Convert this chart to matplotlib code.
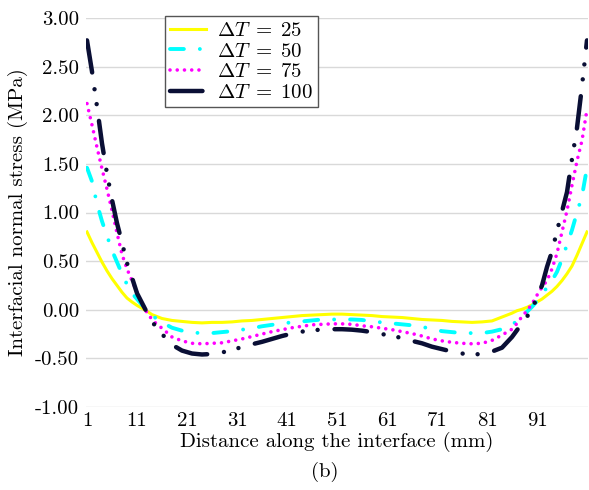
import matplotlib
matplotlib.use("Agg")
import matplotlib.pyplot as plt

plt.rcParams["font.family"] = ["cmr10", "DejaVu Serif"]
plt.rcParams["mathtext.fontset"] = "cm"
plt.rcParams["axes.unicode_minus"] = False
plt.rcParams["axes.formatter.use_mathtext"] = True
plt.rcParams["lines.scale_dashes"] = False

# sampling positions along the interface (mm): dense near both free edges
x = (list(range(1, 17)) + list(range(18, 85, 2)) + list(range(86, 102)))

dt25 = [0.80, 0.69, 0.59, 0.49, 0.40, 0.32, 0.25, 0.18, 0.12, 0.08, 0.045, 0.015, -0.015, -0.05, -0.07, -0.09,
        -0.11, -0.12, -0.13, -0.135, -0.13, -0.13, -0.125, -0.115, -0.11, -0.10, -0.09, -0.08, -0.07, -0.06,
        -0.055, -0.05, -0.045, -0.045, -0.05, -0.055, -0.06, -0.07, -0.075, -0.08, -0.09, -0.10, -0.105, -0.11,
        -0.12, -0.125, -0.13, -0.125, -0.115, -0.075,
        -0.035, -0.01, 0.005, 0.025, 0.05, 0.08, 0.11, 0.15, 0.19, 0.24, 0.30, 0.37, 0.45, 0.56, 0.68, 0.80]

dt50 = [1.46, 1.32, 1.09, 0.91, 0.76, 0.61, 0.49, 0.37, 0.26, 0.17, 0.11, 0.05, 0.00, -0.05, -0.10, -0.13,
        -0.185, -0.215, -0.235, -0.24, -0.24, -0.23, -0.22, -0.205, -0.19, -0.17, -0.155, -0.14, -0.13, -0.12,
        -0.11, -0.10, -0.10, -0.10, -0.10, -0.105, -0.12, -0.13, -0.14, -0.15, -0.16, -0.175, -0.20, -0.22,
        -0.23, -0.24, -0.24, -0.24, -0.225, -0.20,
        -0.15, -0.12, -0.08, -0.02, 0.03, 0.09, 0.16, 0.23, 0.30, 0.39, 0.52, 0.67, 0.82, 1.00, 1.17, 1.46]

dt75 = [2.12, 1.90, 1.67, 1.45, 1.24, 1.02, 0.79, 0.57, 0.42, 0.30, 0.18, 0.06, -0.03, -0.10, -0.15, -0.19,
        -0.28, -0.32, -0.345, -0.35, -0.345, -0.34, -0.32, -0.30, -0.275, -0.25, -0.225, -0.205, -0.185, -0.17,
        -0.155, -0.15, -0.145, -0.145, -0.15, -0.165, -0.175, -0.19, -0.205, -0.225, -0.245, -0.27, -0.30, -0.32,
        -0.335, -0.345, -0.35, -0.345, -0.315, -0.26,
        -0.20, -0.14, -0.07, -0.01, 0.06, 0.15, 0.23, 0.30, 0.42, 0.58, 0.80, 1.02, 1.28, 1.53, 1.74, 2.06]

dt100 = [2.77, 2.45, 2.09, 1.71, 1.40, 1.13, 0.89, 0.69, 0.48, 0.33, 0.17, 0.07, -0.03, -0.12, -0.19, -0.25,
         -0.36, -0.42, -0.45, -0.46, -0.455, -0.44, -0.41, -0.385, -0.355, -0.33, -0.30, -0.27, -0.245, -0.225,
         -0.21, -0.205, -0.20, -0.20, -0.205, -0.215, -0.23, -0.25, -0.27, -0.29, -0.32, -0.345, -0.38, -0.405,
         -0.43, -0.45, -0.46, -0.455, -0.43, -0.39,
         -0.28, -0.21, -0.14, -0.07, 0.00, 0.13, 0.25, 0.44, 0.60, 0.81, 1.01, 1.21, 1.55, 1.87, 2.30, 2.77]

xticks = [1, 11, 21, 31, 41, 51, 61, 71, 81, 91]
yticks = [-1.0, -0.5, 0.0, 0.5, 1.0, 1.5, 2.0, 2.5, 3.0]

FS = 15

fig = plt.figure(figsize=(5.89, 4.90), dpi=100)
ax = fig.add_axes([86 / 589, 1 - 407 / 490, 502 / 589, 389 / 490])

# dots are near-zero dashes drawn with round caps
ax.plot(x, dt25, color="#ffff00", lw=2.2, label=r"$\Delta T\;=\;25$")
ax.plot(x, dt50, color="#00ffff", lw=2.8, dash_capstyle="round",
        linestyle=(0, (10, 11.5, 0.01, 11.5)), label=r"$\Delta T\;=\;50$")
ax.plot(x, dt75, color="#ff00ff", lw=2.6, dash_capstyle="round",
        linestyle=(0, (0.01, 5.2)), label=r"$\Delta T\;=\;75$")
ax.plot(x, dt100, color="#0a0f35", lw=3.2, dash_capstyle="round",
        linestyle=(0, (23.4, 12.2, 0.01, 10.8, 0.01, 12.2)), label=r"$\Delta T\;=\;100$")

ax.set_xlim(0.8, 101.2)
ax.set_ylim(-1.0, 3.0)
ax.set_xticks(xticks)
ax.set_xticklabels([str(t) for t in xticks])
ax.set_yticks(yticks)
ax.set_yticklabels(["%.2f" % t for t in yticks])
ax.tick_params(length=0, labelsize=FS)
ax.tick_params(axis="y", pad=5)
ax.tick_params(axis="x", pad=4)
ax.grid(axis="y", color="#d9d9d9", lw=1.0)
ax.set_axisbelow(True)
for s in ax.spines.values():
    s.set_visible(False)

ax.set_xlabel("Distance along the interface (mm)", fontsize=FS, labelpad=1)
ax.set_ylabel("Interfacial normal stress (MPa)", fontsize=FS, labelpad=5)

leg = ax.legend(loc="upper left", bbox_to_anchor=(0.157, 1.005), borderaxespad=0,
                fontsize=FS, fancybox=False, framealpha=1, edgecolor="#555555",
                handlelength=1.75, labelspacing=0.1, borderpad=0.25, handletextpad=0.5)
leg.get_frame().set_linewidth(1.0)

fig.text(325 / 589, 1 - 472 / 490, "(b)", ha="center", va="center", fontsize=FS)

fig.savefig("out.png", dpi=100)
